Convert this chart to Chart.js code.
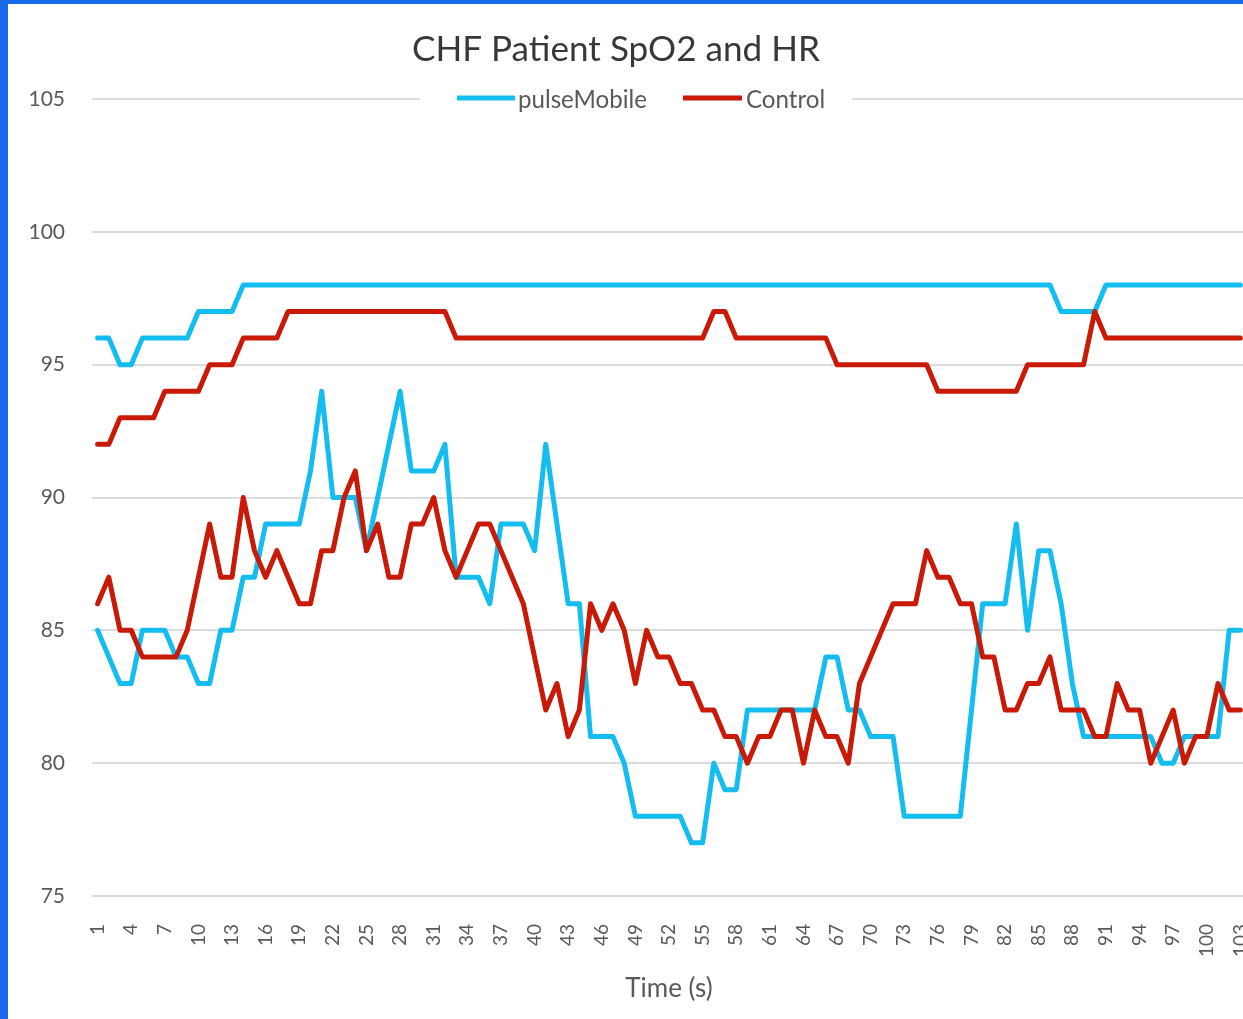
<!DOCTYPE html>
<html>
<head>
<meta charset="utf-8">
<script src="https://cdn.jsdelivr.net/npm/chart.js@4.4.1/dist/chart.umd.min.js"></script>
<style>
  html, body { margin: 0; padding: 0; width: 1243px; height: 1019px; overflow: hidden; background: #176BE8; }
  #frame { position: absolute; left: 8px; top: 4px; width: 1235px; height: 1015px; background: #ffffff; overflow: hidden; }
  #c { position: absolute; left: 0; top: 0; }
</style>
</head>
<body>
<div id="frame"><canvas id="c" width="1238" height="1015"></canvas></div>
<script>
// ---------------- DATA ----------------
const chartTitle = 'CHF Patient SpO2 and HR';
const xAxisTitle = 'Time (s)';
const seriesNames = ['pulseMobile', 'Control'];

const timeSeconds = [
  1,2,3,4,5,6,7,8,9,10,11,12,13,14,15,16,17,18,19,20,
  21,22,23,24,25,26,27,28,29,30,31,32,33,34,35,36,37,38,39,40,
  41,42,43,44,45,46,47,48,49,50,51,52,53,54,55,56,57,58,59,60,
  61,62,63,64,65,66,67,68,69,70,71,72,73,74,75,76,77,78,79,80,
  81,82,83,84,85,86,87,88,89,90,91,92,93,94,95,96,97,98,99,100,
  101,102,103
];

const xTickLabels = [1,4,7,10,13,16,19,22,25,28,31,34,37,40,43,46,49,52,55,58,61,64,67,70,73,76,79,82,85,88,91,94,97,100,103];
const yTickValues = [75,80,85,90,95,100,105];

// pulseMobile SpO2 (upper cyan line)
const pulseMobileSpO2 = [
  96,96,95,95,96,96,96,96,96,97,97,97,97,98,98,98,98,98,98,98,
  98,98,98,98,98,98,98,98,98,98,98,98,98,98,98,98,98,98,98,98,
  98,98,98,98,98,98,98,98,98,98,98,98,98,98,98,98,98,98,98,98,
  98,98,98,98,98,98,98,98,98,98,98,98,98,98,98,98,98,98,98,98,
  98,98,98,98,98,98,97,97,97,97,98,98,98,98,98,98,98,98,98,98,
  98,98,98
];

// Control SpO2 (upper red line)
const controlSpO2 = [
  92,92,93,93,93,93,94,94,94,94,95,95,95,96,96,96,96,97,97,97,
  97,97,97,97,97,97,97,97,97,97,97,97,96,96,96,96,96,96,96,96,
  96,96,96,96,96,96,96,96,96,96,96,96,96,96,96,97,97,96,96,96,
  96,96,96,96,96,96,95,95,95,95,95,95,95,95,95,94,94,94,94,94,
  94,94,94,95,95,95,95,95,95,97,96,96,96,96,96,96,96,96,96,96,
  96,96,96
];

// pulseMobile HR (lower cyan line)
const pulseMobileHR = [
  85,84,83,83,85,85,85,84,84,83,83,85,85,87,87,89,89,89,89,91,
  94,90,90,90,88,90,92,94,91,91,91,92,87,87,87,86,89,89,89,88,
  92,89,86,86,81,81,81,80,78,78,78,78,78,77,77,80,79,79,82,82,
  82,82,82,82,82,84,84,82,82,81,81,81,78,78,78,78,78,78,82,86,
  86,86,89,85,88,88,86,83,81,81,81,81,81,81,81,80,80,81,81,81,
  81,85,85
];

// Control HR (lower red line)
const controlHR = [
  86,87,85,85,84,84,84,84,85,87,89,87,87,90,88,87,88,87,86,86,
  88,88,90,91,88,89,87,87,89,89,90,88,87,88,89,89,88,87,86,84,
  82,83,81,82,86,85,86,85,83,85,84,84,83,83,82,82,81,81,80,81,
  81,82,82,80,82,81,81,80,83,84,85,86,86,86,88,87,87,86,86,84,
  84,82,82,83,83,84,82,82,82,81,81,83,82,82,80,81,82,80,81,81,
  83,82,82
];

// ---------------- STYLE ----------------
const CYAN = '#13BDF0';
const RED = '#C91A08';
const FONT = 'Lato, "Open Sans", sans-serif';
const TEXT_GRAY = '#595959';

function fitSize(ctx, text, targetWidth) {
  ctx.font = '100px ' + FONT;
  return 100 * targetWidth / ctx.measureText(text).width;
}

const overlayPlugin = {
  id: 'overlay',
  afterDraw(chart) {
    const ctx = chart.ctx;
    ctx.save();
    // Title
    const ts = fitSize(ctx, chartTitle, 408);
    ctx.font = ts + 'px ' + FONT;
    ctx.fillStyle = '#383838';
    ctx.textAlign = 'center';
    ctx.textBaseline = 'middle';
    ctx.fillText(chartTitle, 608, 46);

    // Legend (sits on top gridline, with white backdrop)
    const top = chart.chartArea.top;
    ctx.fillStyle = '#ffffff';
    ctx.fillRect(412, top - 6, 432, 12);
    const ls = fitSize(ctx, seriesNames[0], 129);
    ctx.font = ls + 'px ' + FONT;
    ctx.textAlign = 'left';
    ctx.textBaseline = 'middle';
    const items = [
      { name: seriesNames[0], color: CYAN, x0: 449, x1: 507, tx: 510 },
      { name: seriesNames[1], color: RED, x0: 675, x1: 734, tx: 738 }
    ];
    items.forEach(it => {
      ctx.strokeStyle = it.color;
      ctx.lineWidth = 5;
      ctx.lineCap = 'butt';
      ctx.beginPath();
      ctx.moveTo(it.x0, top - 1);
      ctx.lineTo(it.x1, top - 1);
      ctx.stroke();
      ctx.fillStyle = TEXT_GRAY;
      ctx.fillText(it.name, it.tx, top + 1);
    });
    ctx.restore();
  }
};

const lineStyle = { borderWidth: 5, pointRadius: 0, pointHoverRadius: 0, tension: 0, fill: false, borderJoinStyle: 'round', borderCapStyle: 'round' };

new Chart(document.getElementById('c'), {
  type: 'line',
  data: {
    labels: timeSeconds,
    datasets: [
      Object.assign({ label: seriesNames[0], data: pulseMobileSpO2, borderColor: CYAN, backgroundColor: CYAN, order: 2 }, lineStyle),
      Object.assign({ label: seriesNames[1], data: controlSpO2, borderColor: RED, backgroundColor: RED, order: 1 }, lineStyle),
      Object.assign({ label: seriesNames[0], data: pulseMobileHR, borderColor: CYAN, backgroundColor: CYAN, order: 2 }, lineStyle),
      Object.assign({ label: seriesNames[1], data: controlHR, borderColor: RED, backgroundColor: RED, order: 1 }, lineStyle)
    ]
  },
  options: {
    responsive: false,
    animation: false,
    devicePixelRatio: 1,
    layout: { padding: { top: 95, left: 0, right: 0, bottom: 0 } },
    plugins: {
      legend: { display: false },
      title: { display: false },
      tooltip: { enabled: false }
    },
    scales: {
      x: {
        type: 'category',
        offset: true,
        grid: { display: false, drawTicks: false },
        border: { display: false },
        ticks: {
          autoSkip: false,
          minRotation: 90,
          maxRotation: 90,
          padding: 28,
          color: TEXT_GRAY,
          font: { family: FONT, size: 19 },
          callback: function (value, index) {
            const lab = timeSeconds[index];
            return xTickLabels.includes(lab) ? String(lab) : '';
          }
        },
        title: {
          display: true,
          text: xAxisTitle,
          color: TEXT_GRAY,
          font: { family: FONT, size: 26 },
          padding: { top: 0, bottom: 15 }
        },
        afterFit: function (scale) {
          scale.height = 123;
          scale.paddingLeft = 0;
          scale.paddingRight = 0;
        }
      },
      y: {
        min: 75,
        max: 105,
        afterBuildTicks: function (scale) {
          scale.ticks = yTickValues.map(v => ({ value: v }));
        },
        grid: { color: '#dcdcdc', lineWidth: 2, drawTicks: false },
        border: { display: false },
        ticks: {
          padding: 27,
          color: TEXT_GRAY,
          font: { family: FONT, size: 21 }
        },
        afterFit: function (scale) {
          scale.width = 84;
        }
      }
    }
  },
  plugins: [overlayPlugin]
});
</script>
</body>
</html>
